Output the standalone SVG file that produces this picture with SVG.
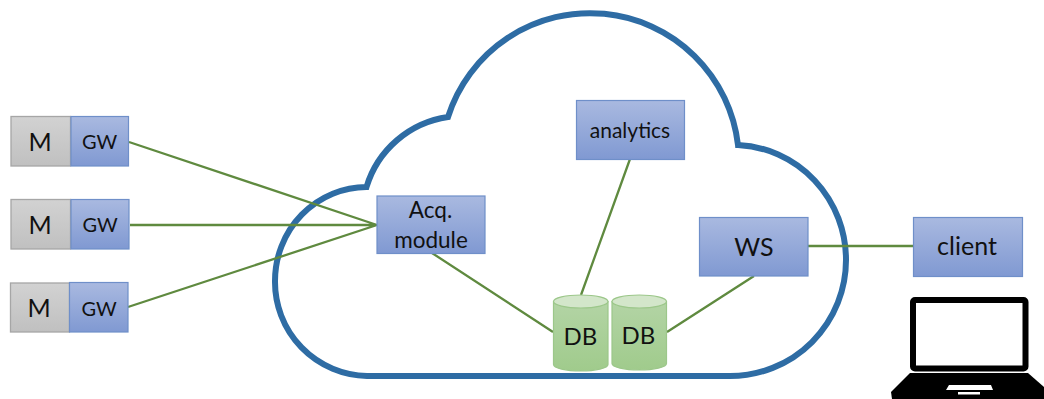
<svg xmlns="http://www.w3.org/2000/svg" width="1044" height="399" viewBox="0 0 1044 399">
<style>
text{font-family:"Lato","Carlito","Noto Sans",sans-serif;fill:#111;text-anchor:middle}
.m{fill:url(#gray);stroke:#a6a6a6;stroke-width:1.3}
.b{fill:url(#blue);stroke:#6f8fc9;stroke-width:1.2}
.c{stroke:#5f8a3f;stroke-width:2.300;fill:none}
.d{fill:url(#green);stroke:#9cc78a;stroke-width:1.2}
.t{fill:#d3e6ca;stroke:#9cc78a;stroke-width:1.2}
</style>
<defs>
<linearGradient id="gray" x1="0" y1="0" x2="0" y2="1"><stop offset="0" stop-color="#d2d2d2"/><stop offset="1" stop-color="#c0c0c0"/></linearGradient>
<linearGradient id="blue" x1="0" y1="0" x2="0" y2="1"><stop offset="0" stop-color="#a9b9e0"/><stop offset="1" stop-color="#8099d2"/></linearGradient>
<linearGradient id="green" x1="0" y1="0" x2="0" y2="1"><stop offset="0" stop-color="#b3d4a5"/><stop offset="1" stop-color="#a0cb8c"/></linearGradient>
</defs>
<g id="cloud"><path d="M367 376A94 94 0 0 1 275 281A92 94 0 0 1 366.500 187A100 100 0 0 1 448 117A149 149 0 0 1 738 145A113 115 0 0 1 846 260A116 116 0 0 1 730 376Z" fill="none" stroke="#2e6ca4" stroke-width="6" stroke-linejoin="miter"/></g>
<g id="connectors">
<path class="c" d="M129 142L377 225M130 225L377 225M128 307L377 225M630 159L581 295M432 253L553 332M754 276L667 332M808 246L913 246"/>
</g>
<g id="m1"><rect class="m" x="11" y="116.500" width="59.500" height="49.500"/><text x="40" y="151" font-size="25">M</text></g>
<g id="gw1"><rect class="b" x="71" y="116.500" width="57.500" height="49.500"/><text x="99.500" y="149" font-size="20">GW</text></g>
<g id="m2"><rect class="m" x="11" y="199.500" width="59.500" height="49.500"/><text x="40" y="234" font-size="25">M</text></g>
<g id="gw2"><rect class="b" x="71" y="199.500" width="58" height="49.500"/><text x="100" y="232" font-size="20">GW</text></g>
<g id="m3"><rect class="m" x="10.500" y="283" width="59" height="49"/><text x="39" y="317" font-size="25">M</text></g>
<g id="gw3"><rect class="b" x="69.500" y="282.500" width="58.500" height="49.500"/><text x="99" y="316" font-size="20">GW</text></g>
<g id="acq"><rect class="b" x="377" y="196" width="108" height="57.500"/><text x="430.500" y="218" font-size="22.500">Acq.</text><text x="431" y="248" font-size="22.500">module</text></g>
<g id="analytics"><rect class="b" x="576.500" y="100.500" width="108" height="59"/><text x="630" y="138" font-size="21">analytics</text></g>
<g id="ws"><rect class="b" x="699.500" y="217.500" width="108.500" height="58.500"/><text x="754" y="256" font-size="25">WS</text></g>
<g id="client"><rect class="b" x="913.500" y="217.500" width="109" height="59"/><text x="967" y="255" font-size="25">client</text></g>
<g id="db1"><path class="d" d="M553.500 301.500V364.500A27.250 6.500 0 0 0 608 364.500V301.500Z"/><ellipse class="t" cx="580.750" cy="301.500" rx="27.250" ry="6.500"/><text x="580.500" y="345" font-size="24">DB</text></g>
<g id="db2"><path class="d" d="M612 301.500V363.500A27.250 6.500 0 0 0 666.500 363.500V301.500Z"/><ellipse class="t" cx="639.250" cy="301.500" rx="27.250" ry="6.500"/><text x="638.500" y="344" font-size="24">DB</text></g>
<g id="laptop">
<rect x="913" y="300" width="112.500" height="68.500" rx="2" fill="#fff" stroke="#000" stroke-width="6"/>
<path d="M910 373H1028L1044 387V399H892L891 392Z" fill="#000"/>
<path d="M949 385H991L993 390H946Z" fill="#fff"/>
<rect x="958" y="392" width="22" height="2.500" fill="#fff"/>
</g>
</svg>
